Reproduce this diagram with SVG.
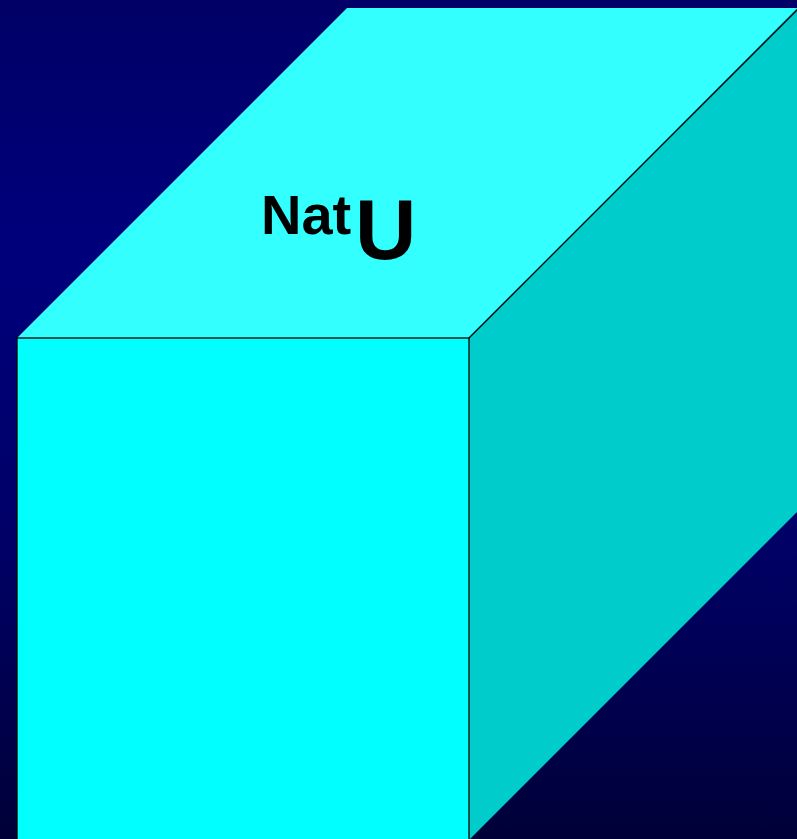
<svg xmlns="http://www.w3.org/2000/svg" width="797" height="839" viewBox="0 0 797 839">
<defs>
<linearGradient id="bg" x1="0" y1="0" x2="0" y2="1">
<stop offset="0" stop-color="#000066"/>
<stop offset="0.3" stop-color="#00007c"/>
<stop offset="0.65" stop-color="#000066"/>
<stop offset="1" stop-color="#000038"/>
</linearGradient>
<style>
.edge{stroke:#000;stroke-width:1.3}
.lbl{font-family:"Liberation Sans",Arial,sans-serif;font-weight:bold;fill:#000}
</style>
</defs>
<rect width="797" height="839" fill="url(#bg)"/>
<g id="cube">
<polygon points="17,338 347,8 800,8 469,338" fill="#33FFFF"/>
<polygon points="469,338 800,5 800,509 469,840" fill="#00CCCC"/>
<rect x="17" y="338" width="452" height="510" fill="#00FFFF" class="edge"/>
<line x1="469" y1="338" x2="798" y2="9" class="edge"/>
</g>
<g id="label">
<text class="lbl" x="261" y="234" font-size="56">Nat</text>
<text class="lbl" x="355" y="259" font-size="85">U</text>
</g>
</svg>
